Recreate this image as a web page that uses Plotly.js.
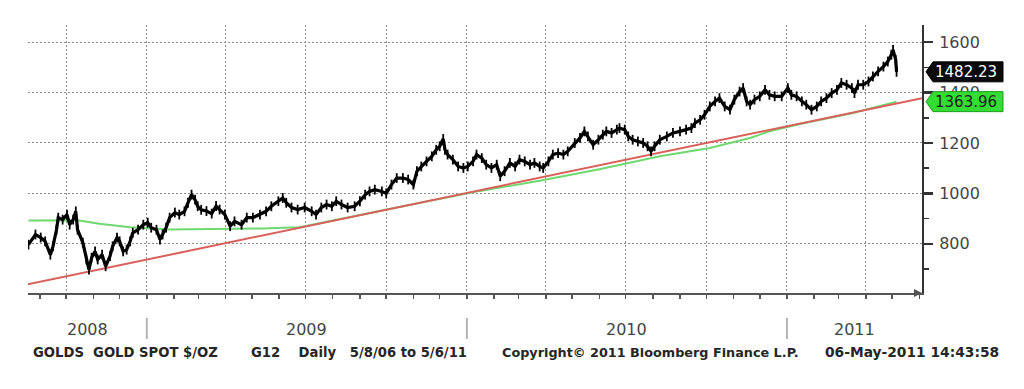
<!DOCTYPE html>
<html>
<head>
<meta charset="utf-8">
<script src="https://cdn.plot.ly/plotly-3.0.1.min.js"></script>
<style>html,body{margin:0;padding:0;background:#fff;}#chart{width:1024px;height:389px;}</style>
</head>
<body>
<div id="chart"></div>
<script>
// ---- data ----
const priceDates = [
'2008-08-19','2008-08-27','2008-09-02','2008-09-07','2008-09-13','2008-09-16','2008-09-20','2008-09-22','2008-09-27','2008-10-02',
'2008-10-05','2008-10-09','2008-10-12','2008-10-14','2008-10-20','2008-10-24','2008-10-27','2008-10-30','2008-11-03','2008-11-06',
'2008-11-11','2008-11-15','2008-11-20','2008-11-23','2008-11-28','2008-12-01','2008-12-05','2008-12-09','2008-12-13','2008-12-16',
'2008-12-22','2008-12-28','2009-01-02','2009-01-06','2009-01-12','2009-01-16','2009-01-19','2009-01-23','2009-01-27','2009-02-02',
'2009-02-07','2009-02-13','2009-02-17','2009-02-21','2009-02-25','2009-02-28','2009-03-04','2009-03-10','2009-03-16','2009-03-21',
'2009-03-25','2009-03-31','2009-04-06','2009-04-11','2009-04-19','2009-04-25','2009-05-02','2009-05-10','2009-05-17','2009-05-23',
'2009-05-31','2009-06-05','2009-06-09','2009-06-15','2009-06-22','2009-06-30','2009-07-08','2009-07-13','2009-07-19','2009-07-25',
'2009-07-31','2009-08-05','2009-08-11','2009-08-18','2009-08-26','2009-09-01','2009-09-07','2009-09-12','2009-09-18','2009-09-26',
'2009-10-01','2009-10-07','2009-10-13','2009-10-20','2009-10-26','2009-11-01','2009-11-05','2009-11-10','2009-11-16','2009-11-22',
'2009-11-27','2009-12-01','2009-12-05','2009-12-07','2009-12-10','2009-12-16','2009-12-22','2009-12-28','2010-01-02','2010-01-08',
'2010-01-12','2010-01-18','2010-01-23','2010-01-29','2010-02-04','2010-02-08','2010-02-13','2010-02-19','2010-02-25','2010-03-02',
'2010-03-08','2010-03-14','2010-03-19','2010-03-25','2010-03-29','2010-04-04','2010-04-09','2010-04-15','2010-04-21','2010-04-26',
'2010-05-04','2010-05-10','2010-05-15','2010-05-19','2010-05-25','2010-05-31','2010-06-05','2010-06-09','2010-06-15','2010-06-21',
'2010-06-24','2010-06-30','2010-07-04','2010-07-09','2010-07-15','2010-07-21','2010-07-26','2010-07-30','2010-08-03','2010-08-09',
'2010-08-17','2010-08-24','2010-09-01','2010-09-08','2010-09-14','2010-09-18','2010-09-24','2010-09-29','2010-10-05','2010-10-11',
'2010-10-16','2010-10-22','2010-10-28','2010-11-02','2010-11-08','2010-11-12','2010-11-16','2010-11-20','2010-11-25','2010-12-01',
'2010-12-07','2010-12-12','2010-12-18','2010-12-26','2011-01-02','2011-01-06','2011-01-12','2011-01-18','2011-01-23','2011-01-29',
'2011-02-04','2011-02-09','2011-02-15','2011-02-21','2011-02-27','2011-03-04','2011-03-10','2011-03-16','2011-03-19','2011-03-23',
'2011-03-29','2011-04-04','2011-04-09','2011-04-15','2011-04-21','2011-04-26','2011-04-30','2011-05-02','2011-05-05','2011-05-06'
];
const priceValues = [
797,837,825,810,757,790,856,904,896,916,
876,896,929,856,805,738,698,745,770,738,
757,711,751,790,825,810,770,777,810,844,
856,876,884,864,856,817,837,864,904,924,
916,929,963,995,975,949,935,930,920,950,
936,916,870,889,876,904,904,916,929,949,
969,982,963,944,936,944,929,916,944,956,
949,969,956,944,949,969,995,1008,1015,1008,
1000,1035,1061,1061,1055,1035,1088,1107,1127,1147,
1173,1187,1216,1173,1154,1134,1107,1101,1107,1127,
1154,1140,1114,1101,1114,1068,1088,1121,1107,1134,
1127,1114,1121,1107,1101,1127,1154,1160,1154,1167,
1200,1220,1246,1226,1193,1213,1233,1246,1240,1253,
1259,1253,1226,1213,1206,1200,1187,1167,1187,1213,
1226,1240,1246,1253,1259,1279,1292,1312,1345,1365,
1378,1345,1332,1372,1404,1418,1365,1352,1372,1385,
1411,1391,1385,1385,1418,1391,1385,1365,1352,1332,
1345,1365,1378,1398,1411,1438,1431,1418,1398,1431,
1431,1444,1464,1484,1503,1523,1550,1569,1530,1482.23
];
const maDates = ['2008-08-19','2008-10-14','2008-11-08','2008-12-13','2009-01-27','2009-04-09','2009-05-13','2009-06-24','2009-06-30','2009-10-16','2010-01-16','2010-03-25','2010-06-01','2010-08-09','2010-10-05','2010-11-20','2010-12-12','2011-01-16','2011-03-16','2011-05-06'];
const maValues = [893,894,880,866,857,859,861,866,870,946,1010,1050,1096,1147,1180,1220,1246,1275,1318,1363.96];
const trendDates = ['2008-08-18','2011-06-04'];
const trendValues = [639,1378];
const yearLabels = ['2008','2009','2010','2011'];
const yTicks = [800,1000,1200,1400,1600];
const footerTexts = ['GOLDS\u00a0\u00a0GOLD SPOT $/OZ','G12\u00a0\u00a0\u00a0\u00a0Daily\u00a0\u00a0\u00a05/8/06 to 5/6/11','Copyright\u00a9 2011 Bloomberg Finance L.P.','06-May-2011 14:43:58'];

// ---- layout helpers ----
const xRange = ['2008-08-18 12:00','2011-06-04'];
const yRange = [605,1668];
const M = {l:28, r:102, t:25, b:96};
const plotW = 1024 - M.l - M.r, plotH = 389 - M.t - M.b;
const pyPaper = py => (389 - M.b - py) / plotH;   // pixel row -> paper y
const pxShift = px => px - M.l;                    // pixel col -> shift from paper 0

const traces = [
  {x: maDates, y: maValues, type:'scatter', mode:'lines', line:{color:'#6fd86f', width:2}, hoverinfo:'skip'},
  {x: trendDates, y: trendValues, type:'scatter', mode:'lines', line:{color:'#d9605a', width:2}, hoverinfo:'skip'},
  {x: priceDates, y: priceValues, type:'scatter', mode:'lines+markers', line:{color:'#000', width:3.2},
   marker:{symbol:'line-ns-open', size:7, color:'#000', line:{width:1.8, color:'#000'}}, hoverinfo:'skip'}
];

const t0 = new Date(xRange[0]).getTime(), t1 = new Date(xRange[1]).getTime();
const annotations = [];
const shapes = [];
// year labels centred on the visible part of each year, separators at year starts
yearLabels.forEach((yl, i) => {
  const a = Math.max(t0, Date.UTC(+yl,0,1)), b = Math.min(t1, Date.UTC(+yl+1,0,1));
  annotations.push({x: new Date((a+b)/2).toISOString().slice(0,10), xref:'x', y: pyPaper(329), yref:'paper',
    text: yl, showarrow:false, yanchor:'middle', font:{family:'DejaVu Sans', size:16, color:'#454545'}});
  if (i > 0) shapes.push({type:'line', xref:'x', yref:'paper', x0: yl+'-01-01', x1: yl+'-01-01',
    y0: pyPaper(318), y1: pyPaper(339), line:{color:'#b4b4b4', width:2}});
});
// footer
const footerPx = [31, 249, 500, 823];
const footerSize = [13.2, 13.2, 12.8, 13.8];
footerTexts.forEach((t, i) => annotations.push({xref:'paper', x:0, xshift: pxShift(footerPx[i]), xanchor:'left',
  yref:'paper', y: pyPaper(352), yanchor:'middle', text:t, showarrow:false,
  font:{family:'DejaVu Sans', size:footerSize[i], color:'#262626', weight:'bold'}}));
// arrow at the end of the time axis
annotations.push({xref:'paper', yref:'paper', x:1, y:0, ax:-9, ay:0, text:'', showarrow:true,
  arrowhead:2, arrowsize:1, arrowwidth:1.6, arrowcolor:'#555'});
// value flags on the right axis
const lastPrice = priceValues[priceValues.length-1];
const lastMA = maValues[maValues.length-1];
const flagPath = 'M 4,0 L 11,10 L 81,10 L 81,-10 L 11,-10 Z';
[[lastPrice,'#0a0a0a','#000','#ffffff'],[lastMA,'#33dd33','#1c9c1c','#1d1d1d']].forEach(([v,fill,edge,txt]) => {
  shapes.push({type:'path', layer:'above', xref:'paper', yref:'y', xsizemode:'pixel', ysizemode:'pixel',
    xanchor:1, yanchor:v, path: flagPath, fillcolor:fill, line:{color:edge, width:1}});
  annotations.push({xref:'paper', x:1, xanchor:'left', xshift:11, yref:'y', y:v, yanchor:'middle',
    text: v.toFixed(2), showarrow:false, font:{family:'DejaVu Sans', size:15, color:txt}});
});

const layout = {
  width:1024, height:389, margin:M, paper_bgcolor:'#fff', plot_bgcolor:'#fff', showlegend:false,
  font:{family:'DejaVu Sans', color:'#444'},
  xaxis:{type:'date', range:xRange, tickmode:'linear', tick0:'2008-10-01', dtick:'M3', showticklabels:false,
    ticks:'outside', ticklen:4, tickwidth:1.5, tickcolor:'#555',
    showgrid:true, gridcolor:'#8c8c8c', gridwidth:1, griddash:'2px,2px',
    showline:true, linecolor:'#555', linewidth:2, zeroline:false, fixedrange:true,
    minor:{tickmode:'linear', tick0:'2008-09-01', dtick:'M1', ticks:'outside', ticklen:4, tickwidth:1.5, tickcolor:'#555', showgrid:false}},
  yaxis:{side:'right', range:yRange, tickmode:'array', tickvals:yTicks, ticktext:yTicks.map(String),
    ticks:'outside', ticklen:9, tickwidth:2.5, tickcolor:'#333', ticklabelstandoff:3,
    tickfont:{family:'DejaVu Sans', size:16, color:'#454545'},
    showgrid:true, gridcolor:'#8c8c8c', gridwidth:1, griddash:'2px,2px',
    showline:true, linecolor:'#333', linewidth:2, zeroline:false, fixedrange:true,
    minor:{tickmode:'linear', tick0:0, dtick:100, ticks:'outside', ticklen:5, tickwidth:1.5, tickcolor:'#333', showgrid:false}},
  shapes, annotations
};
Plotly.newPlot('chart', traces, layout, {staticPlot:true, displayModeBar:false});
</script>
</body>
</html>
